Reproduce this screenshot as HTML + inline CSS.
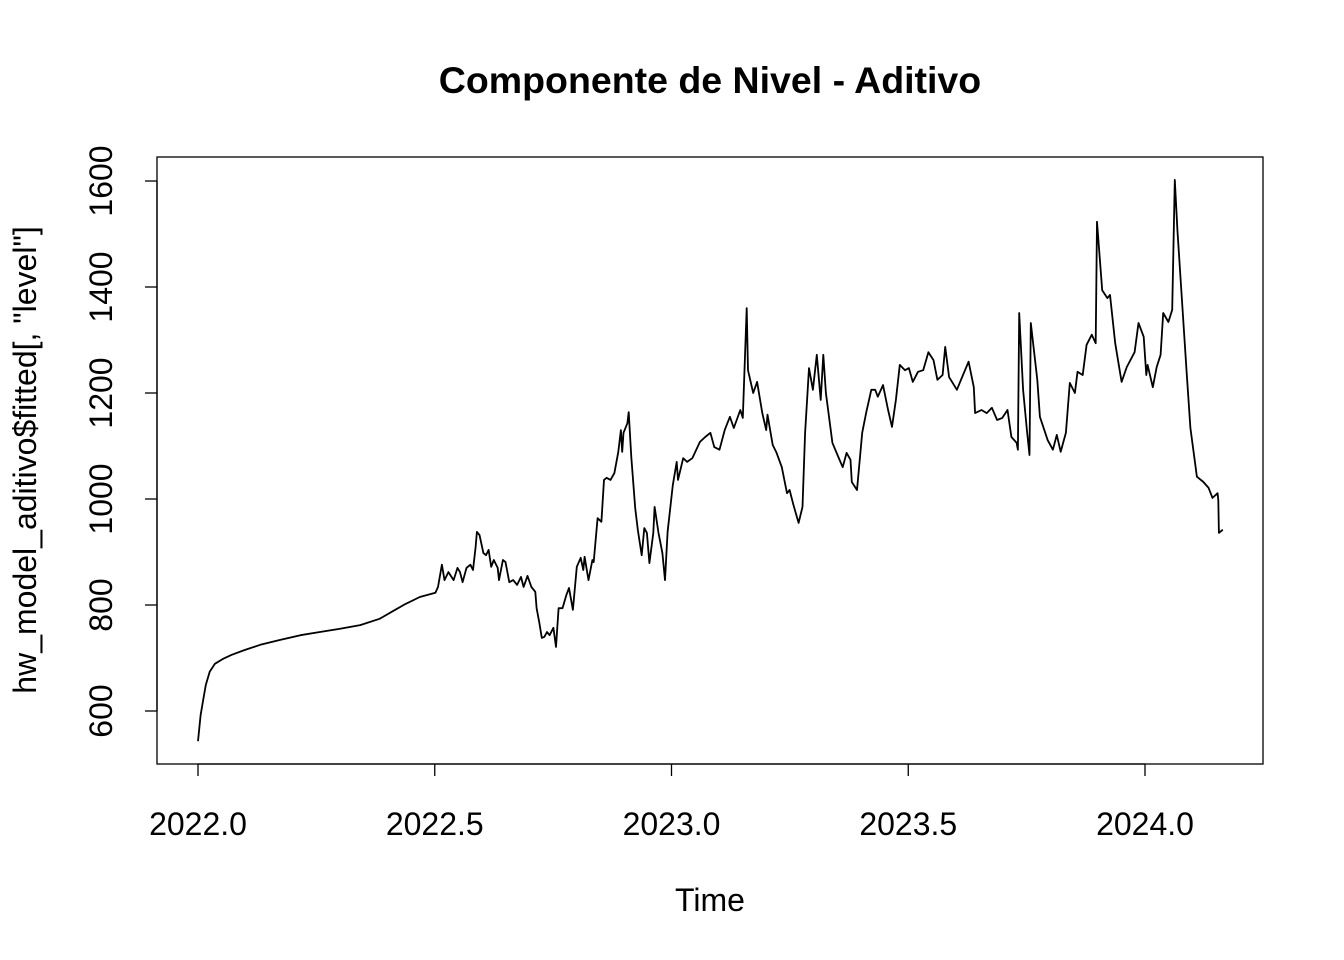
<!DOCTYPE html>
<html><head><meta charset="utf-8"><style>
html,body{margin:0;padding:0;background:#fff;}
svg{display:block;font-family:"Liberation Sans",Arial,sans-serif;}
</style></head><body>
<svg id="chart" width="1344" height="960" viewBox="0 0 1344 960">
<text x="710" y="93" text-anchor="middle" font-size="37.5" font-weight="bold">Componente de Nivel - Aditivo</text>
<rect x="157" y="157" width="1106" height="607" fill="none" stroke="#000" stroke-width="1.3"/>
<g id="xaxis"></g>
<g id="yaxis"></g>
<text x="710" y="911" text-anchor="middle" font-size="32">Time</text>
<text transform="translate(36,460) rotate(-90)" text-anchor="middle" font-size="32">hw_model_aditivo$fitted[, "level"]</text>
<path id="series" fill="none" stroke="#000" stroke-width="1.8" stroke-linejoin="round"/>
</svg>
<script>
const days=[0,2,4,6,9,13,19,26,36,48,63,79,94,109,125,140,152,160,171,183,185,188,190,193,197,200,202,204,207,210,212,214,215,217,220,222,224,226,228,231,232,235,237,240,243,246,249,251,254,257,260,261,263,265,267,269,271,274,276,278,281,284,286,289,292,295,297,298,301,304,305,308,311,313,315,318,321,324,326,327,328,331,332,334,337,339,342,344,346,348,351,352,355,358,360,362,366,369,370,374,377,381,387,391,395,398,402,406,410,413,418,420,423,424,428,431,435,438,439,443,446,450,454,456,459,463,466,468,471,474,477,480,482,484,489,493,497,500,503,504,508,512,515,519,522,524,528,532,535,538,541,545,548,551,555,559,563,567,570,574,576,579,585,589,594,598,599,604,608,612,616,620,624,627,631,632,633,636,639,641,642,647,649,655,659,662,665,669,672,676,678,682,685,689,692,693,697,701,703,707,712,716,722,725,729,731,732,736,739,742,744,748,751,753,755,757,762,765,770,775,779,782,786,786.5,787,790];
const levels=[543,592,621,649,674,689,698,706,715,725,734,743,749,755,762,774,791,802,815,823,834,876,847,862,847,870,862,843,870,876,866,909,938,932,898,894,904,872,885,870,847,885,881,843,847,838,853,834,855,834,825,794,768,738,740,749,743,757,721,794,794,819,832,791,872,889,866,891,847,885,881,964,957,1036,1040,1036,1049,1089,1130,1089,1125,1143,1164,1079,983,942,894,945,936,879,936,985,936,898,847,938,1026,1070,1036,1077,1070,1077,1108,1117,1125,1098,1093,1130,1155,1134,1168,1153,1360,1243,1200,1221,1162,1130,1159,1102,1087,1060,1011,1017,989,955,985,1125,1247,1206,1272,1187,1272,1200,1106,1083,1060,1087,1074,1032,1017,1125,1162,1206,1206,1193,1215,1168,1136,1187,1253,1243,1247,1221,1240,1243,1277,1262,1225,1234,1287,1230,1206,1230,1259,1211,1162,1168,1162,1172,1149,1153,1168,1117,1106,1093,1351,1206,1130,1083,1332,1225,1155,1111,1093,1121,1089,1125,1219,1200,1240,1234,1291,1310,1294,1523,1394,1379,1385,1294,1221,1249,1277,1332,1306,1234,1253,1211,1249,1272,1351,1334,1357,1602,1508,1432,1243,1134,1042,1032,1021,1002,1011,998,936,942];
const xTicks=[2022.0,2022.5,2023.0,2023.5,2024.0];
const xTickLabels=["2022.0","2022.5","2023.0","2023.5","2024.0"];
const yTicks=[600,800,1000,1200,1400,1600];
const yTickLabels=["600","800","1000","1200","1400","1600"];
const startYear=2022;

function xScale(t){return 198+(t-2022)*473.5;}
function yScale(v){return 711-(v-600)*0.53;}
const NS="http://www.w3.org/2000/svg";
const xa=document.getElementById('xaxis'), ya=document.getElementById('yaxis');
function mk(tag,attrs,parent){const e=document.createElementNS(NS,tag);for(const k in attrs)e.setAttribute(k,attrs[k]);parent.appendChild(e);return e;}
const xl=mk('line',{x1:xScale(xTicks[0]),x2:xScale(xTicks[xTicks.length-1]),y1:764,y2:764,stroke:'#000','stroke-width':1.3},xa);


xTicks.forEach((t,i)=>{
  const tk=mk('line',{x1:xScale(t),x2:xScale(t),y1:764,y2:776,stroke:'#000','stroke-width':1.3},xa);
  
  
  const tx=mk('text',{x:xScale(t),y:835,'text-anchor':'middle','font-size':32},xa);
  tx.textContent=xTickLabels[i];
  
  
});
const yl=mk('line',{x1:157,x2:157,y1:yScale(yTicks[0]),y2:yScale(yTicks[yTicks.length-1]),stroke:'#000','stroke-width':1.3},ya);


yTicks.forEach((v,i)=>{
  const tk=mk('line',{x1:145,x2:157,y1:yScale(v),y2:yScale(v),stroke:'#000','stroke-width':1.3},ya);
  
  
  const tx=mk('text',{transform:`translate(112,${yScale(v)}) rotate(-90)`,'text-anchor':'middle','font-size':32},ya);
  tx.textContent=yTickLabels[i];
  
  
});
let d='';
days.forEach((dd,i)=>{const t=startYear+dd/365;d+=(i?'L':'M')+xScale(t).toFixed(1)+' '+yScale(levels[i]).toFixed(1);});
document.getElementById('series').setAttribute('d',d);
</script>
</body></html>
